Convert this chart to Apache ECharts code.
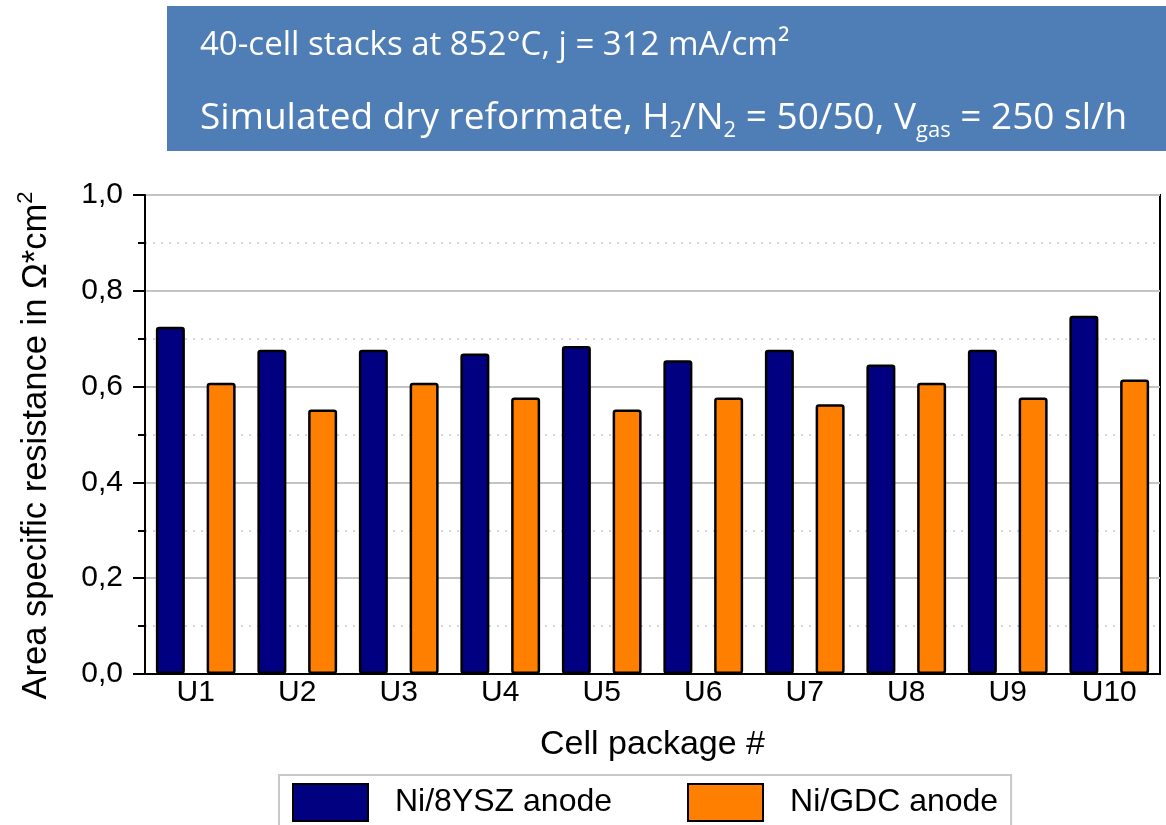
<!DOCTYPE html>
<html>
<head>
<meta charset="utf-8">
<script src="https://cdn.jsdelivr.net/npm/echarts@6/dist/echarts.min.js"></script>
<style>
html,body{margin:0;padding:0;background:#fff;}
#chart{width:1166px;height:825px;}
</style>
</head>
<body>
<div id="chart"></div>
<script>
const categories = ['U1','U2','U3','U4','U5','U6','U7','U8','U9','U10'];
const seriesNames = ['Ni/8YSZ anode','Ni/GDC anode'];
const ysz = [0.725,0.677,0.677,0.669,0.685,0.655,0.677,0.646,0.677,0.748];
const gdc = [0.608,0.552,0.608,0.577,0.552,0.577,0.563,0.608,0.577,0.615];
const yMin = 0, yMax = 1.0, yInterval = 0.2;
const titleLine1 = '40-cell stacks at 852°C, j = 312 mA/cm²';
const titleLine2 = 'Simulated dry reformate, H{sub|2}/N{sub|2} = 50/50, V{sub|gas} = 250 sl/h';
const xAxisName = 'Cell package #';
const yAxisName = 'Area specific resistance in Ω*cm{sup|2}';

const FONT = '"Liberation Sans", Arial, sans-serif';
const TFONT = '"Open Sans", "Noto Sans", sans-serif';

const chart = echarts.init(document.getElementById('chart'), null, {renderer:'canvas'});
chart.setOption({
  animation:false,
  backgroundColor:'#fff',
  graphic:[
    {type:'rect', left:167, top:6, shape:{width:1010, height:145}, style:{fill:'#4f7eb6'}},
    {type:'text', left:200, top:29, style:{text:titleLine1, fill:'#fff', fontSize:33, fontFamily:TFONT}},
    {type:'text', left:200, top:95, style:{text:titleLine2, fill:'#fff', fontSize:37, fontFamily:TFONT, lineHeight:47,
      rich:{sub:{fontSize:22, lineHeight:22, verticalAlign:'bottom', fill:'#fff', fontFamily:TFONT}}}}
  ],
  grid:{left:145, right:6, top:195, bottom:151, show:true, borderColor:'#000', borderWidth:2, outerBoundsMode:'none'},
  legend:{
    left:279, top:775, orient:'horizontal',
    itemWidth:75, itemHeight:37, itemGap:75,
    padding:[8,13,8,13],
    borderColor:'#c8c8c8', borderWidth:2,
    icon:'rect',
    textStyle:{fontSize:32, fontFamily:FONT, color:'#000', padding:[0,0,0,22]},
    data:seriesNames
  },
  xAxis:{
    type:'category', data:categories,
    axisLine:{lineStyle:{color:'#000', width:2}},
    axisTick:{show:false},
    axisLabel:{fontSize:30, fontFamily:FONT, color:'#000', margin:4},
    name:xAxisName, nameLocation:'middle', nameGap:54,
    nameTextStyle:{fontSize:34, fontFamily:FONT, color:'#000'}
  },
  yAxis:{
    type:'value', min:yMin, max:yMax, interval:yInterval,
    axisLine:{show:true, lineStyle:{color:'#000', width:2}},
    axisTick:{show:true, inside:false, length:12, lineStyle:{color:'#000', width:2}},
    minorTick:{show:true, splitNumber:2, length:7, lineStyle:{color:'#000', width:2}},
    splitLine:{show:true, lineStyle:{color:'#c4c4c4', width:2}},
    minorSplitLine:{show:true, lineStyle:{color:'#c8c8c8', width:1.5, type:[2,6]}},
    axisLabel:{fontSize:30, fontFamily:FONT, color:'#000', margin:22,
      formatter:v => v.toFixed(1).replace('.', ',')},
    name:yAxisName, nameLocation:'middle', nameGap:88,
    nameTextStyle:{fontSize:34.5, fontFamily:FONT, color:'#000', lineHeight:42, padding:[0,22,0,0],
      rich:{sup:{fontSize:22, lineHeight:22, verticalAlign:'top', fontFamily:FONT, color:'#000'}}}
  },
  series:[
    {name:seriesNames[0], type:'bar', data:ysz, barWidth:29, barGap:'75%',
      itemStyle:{color:'#000080', borderColor:'#000', borderWidth:2.5, borderRadius:2}},
    {name:seriesNames[1], type:'bar', data:gdc, barWidth:29,
      itemStyle:{color:'#ff8000', borderColor:'#000', borderWidth:2.5, borderRadius:2}}
  ]
});
</script>
</body>
</html>
